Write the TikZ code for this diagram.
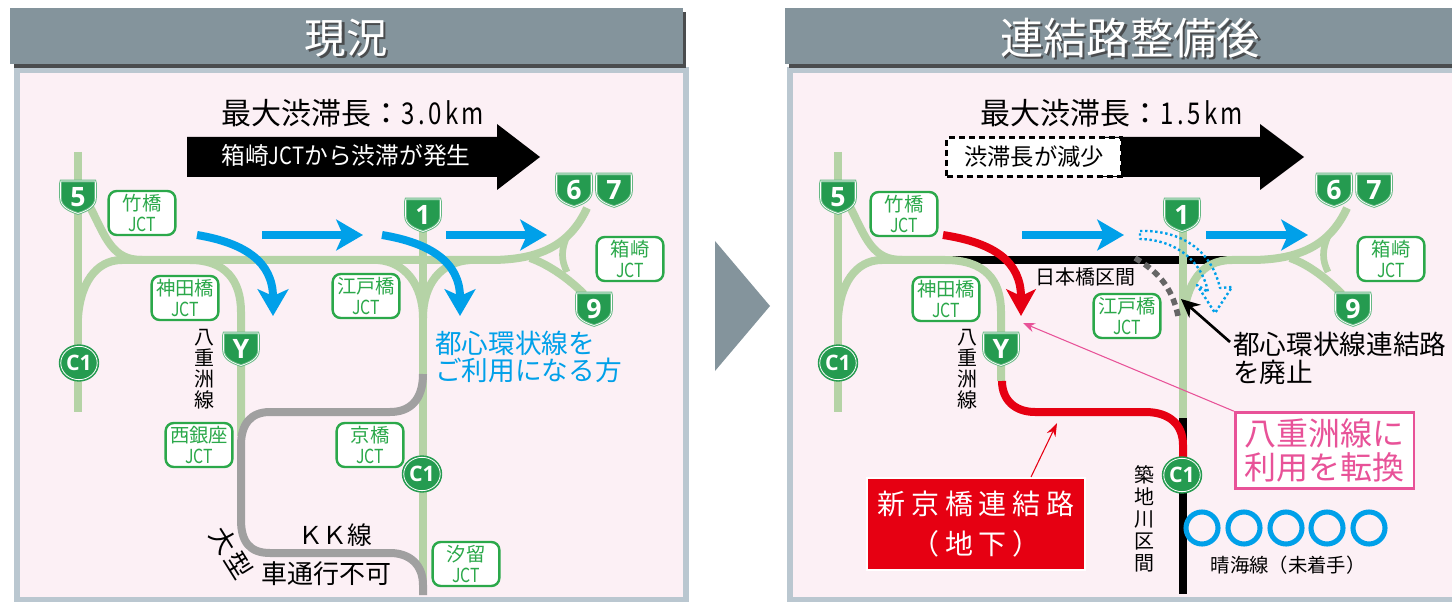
\documentclass[tikz,border=0pt]{standalone}
\usepackage{fontspec}
\setmainfont{Noto Sans CJK JP}
\newfontfamily\shieldfont{Open Sans}
\usetikzlibrary{arrows.meta, shapes.geometric}
\definecolor{headgray}{HTML}{84949C}
\definecolor{headshade}{HTML}{4A4C4E}
\definecolor{panelpink}{HTML}{FCF0F5}
\definecolor{panelrim}{HTML}{BAC7D0}
\definecolor{roadgreen}{HTML}{B5D3A6}
\definecolor{labelgreen}{HTML}{2BA84A}
\definecolor{shieldgreen}{HTML}{259B50}
\definecolor{flowblue}{HTML}{00A0E9}
\definecolor{linkred}{HTML}{E60012}
\definecolor{notepink}{HTML}{E85298}
\definecolor{closedgray}{HTML}{A0A0A0}
\newcommand{\jct}{\scalebox{0.82}[1]{JCT}}
\newcommand{\kmtext}[1]{\scalebox{0.8}[1]{\addfontfeature{LetterSpace=14}#1}}
\newcommand{\wcolon}{\symbol{"FF1A}}
\newcommand{\wopen}{\symbol{"FF08}}
\newcommand{\wclose}{\symbol{"FF09}}
\newcommand{\wkay}{\symbol{"FF2B}}
% road shield: name, position, text
\newcommand{\shieldmark}[3]{
	\path[shift={(#2)}, fill=shieldgreen, draw=shieldgreen!70!white, double=white, double distance=0.5pt, line width=0.7pt]
		(-17,-16) -- (17,-16) -- (17.5,-14) -- (17.5,1) .. controls (17.5,10) and (8,14) .. (0,16.5)
		.. controls (-8,14) and (-17.5,10) .. (-17.5,1) -- (-17.5,-14) -- cycle;
	\node[shieldtext] (#1) at (#2) {#3};
}
\begin{document}
\begin{tikzpicture}[x=0.75pt, y=-0.75pt]
	\tikzset{
		road/.style={draw=roadgreen, line width=6pt},
		closedroad/.style={draw=closedgray, line width=6pt},
		blackroad/.style={draw=black, line width=6pt},
		newroad/.style={draw=linkred, line width=6pt},
		flowarrow/.style={draw=flowblue, line width=6pt, -{Stealth[length=20pt, width=23pt, inset=5pt]}},
		jctbox/.style={draw=labelgreen, line width=1.8pt, fill=white, rounded corners=6pt, text=labelgreen,
			minimum width=50pt, minimum height=33pt, inner sep=0pt, align=center,
			font=\fontsize{14.5}{15.5}\selectfont},
		shieldtext/.style={text=white, font=\shieldfont\bfseries\fontsize{20}{20}\selectfont, inner sep=0pt},
		cone/.style={ellipse, fill=shieldgreen, draw=shieldgreen, double=white, double distance=0.6pt, line width=1.2pt,
			minimum width=27pt, minimum height=25pt, inner sep=0pt,
			text=white, font=\shieldfont\bfseries\fontsize{16}{16}\selectfont},
		titletext/.style={text=white, font=\fontsize{31}{31}\selectfont},
		titleshade/.style={text=headshade, font=\fontsize{31}{31}\selectfont},
		bigtext/.style={font=\fontsize{22.5}{24}\selectfont},
		roadname/.style={align=center, font=\fontsize{15}{15.75}\selectfont, inner sep=0pt},
		ring/.style={circle, draw=flowblue, line width=3.8pt, minimum size=24pt, inner sep=0pt},
	}
	\useasboundingbox (0,0) rectangle (1452,602);

	% panels
	\fill[white] (0,0) rectangle (1452,602);
	\fill[panelpink, draw=panelrim, line width=5pt] (17,70) rectangle (686,600);
	\fill[headshade] (14,12) rectangle (686,68);
	\fill[headgray] (10,8) rectangle (683,64);
	\fill[panelpink] (792,70) rectangle (1452,600);
	\draw[panelrim, line width=5pt] (1452,70) -- (790,70) -- (790,600) -- (1452,600);
	\fill[headshade] (789,12) rectangle (1452,68);
	\fill[headgray] (785,8) rectangle (1452,64);
	\fill[headgray] (715,241) -- (770,306) -- (715,371) -- cycle;

	\node[titleshade] (nowshade) at (348.5,40.5) {現況};
	\node[titletext] (nowtitle) at (346,38) {現況};
	\node[titleshade, font=\fontsize{32.5}{32.5}\selectfont] (aftershade) at (1132.5,40.5) {連結路整備後};
	\node[titletext, font=\fontsize{32.5}{32.5}\selectfont] (aftertitle) at (1130,38) {連結路整備後};

	% left panel
	\node[bigtext] (nowmax) at (353,113) {最大渋滞長\wcolon\kmtext{3.0km}};
	\fill[black] (187,137) -- (497,137) -- (497,124) -- (540,157) -- (497,190) -- (497,177) -- (187,177) -- cycle;
	\node[text=white, font=\fontsize{17.8}{18}\selectfont] (nowjam) at (346,156) {箱崎\scalebox{0.85}[1]{JCT}から渋滞が発生};

	\draw[road] (78,152) -- (78,412);
	\draw[road] (90,207) .. controls (106,238) and (112,260) .. (142,260);
	\draw[road] (78,318) .. controls (80,285) and (95,260) .. (122,260);
	\draw[road] (120,260) -- (490,260) .. controls (540,260) and (570,245) .. (587,208);
	\draw[road] (190,260) .. controls (225,260) and (241,280) .. (241,312) -- (241,436);
	\draw[road] (423,225) -- (423,595);
	\draw[road] (378,260) .. controls (405,262) and (423,285) .. (423,318);
	\draw[road] (470,260) .. controls (440,262) and (423,285) .. (423,318);
	\draw[road] (530,258) .. controls (550,265) and (570,280) .. (584,294);
	\draw[road, line width=5pt] (567,236) .. controls (561,250) and (561,260) .. (567,272);

	\draw[closedroad] (423,374) .. controls (423,400) and (410,412) .. (390,412) -- (270,412)
		.. controls (250,412) and (241,425) .. (241,445) -- (241,520)
		.. controls (241,542) and (250,553) .. (270,553) -- (390,553)
		.. controls (410,553) and (423,565) .. (423,585) -- (423,595);

	\coordinate (nowbendA) at (197,235);
	\coordinate (nowtipA) at (273,316);
	\coordinate (nowbendB) at (382,235);
	\coordinate (nowtipB) at (460,316);
	\coordinate (nowflowA) at (262,235);
	\coordinate (nowendA) at (363,235);
	\coordinate (nowflowB) at (446,235);
	\coordinate (nowendB) at (547,235);
	\draw[flowarrow] (nowbendA) .. controls (245,243) and (273,262) .. (nowtipA);
	\draw[flowarrow] (nowbendB) .. controls (430,243) and (460,262) .. (nowtipB);
	\draw[flowarrow] (nowflowA) -- (nowendA);
	\draw[flowarrow] (nowflowB) -- (nowendB);

	\shieldmark{nowfive}{78,197}{5}
	\shieldmark{nowsix}{574,190}{6}
	\shieldmark{nowseven}{614,190}{7}
	\shieldmark{nowone}{423,215}{1}
	\shieldmark{nownine}{594,309}{9}
	\shieldmark{nowy}{241,349}{Y}
	\node[cone] (nowcone) at (79,363) {C1};
	\node[cone] (nowctwo) at (422,474) {C1};

	\node[jctbox] (nowtake) at (142,213) {竹橋\\\jct};
	\node[jctbox] (nowkanda) at (185,298) {神田橋\\\jct};
	\node[jctbox] (nowedo) at (366,296) {江戸橋\\\jct};
	\node[jctbox] (nowhako) at (630,259) {箱崎\\\jct};
	\node[jctbox] (nowgin) at (199,445) {西銀座\\\jct};
	\node[jctbox] (nowkyo) at (370,445) {京橋\\\jct};
	\node[jctbox] (nowshio) at (466,564) {汐留\\\jct};

	\node[roadname] (nowyaesu) at (204,369) {八\\重\\洲\\線};
	\node[text=flowblue, align=left, anchor=north west, inner sep=0pt, font=\fontsize{20}{20}\selectfont] (nowuse) at (435,331) {都心環状線を\\ご利用になる方};
	\node[font=\fontsize{18.5}{18.5}\selectfont, inner sep=0pt] (nowkk) at (335,535) {\wkay\wkay 線};
	\node[font=\fontsize{19.5}{19.5}\selectfont\addfontfeature{LetterSpace=12}, inner sep=0pt] (nowbig) at (231,553) [rotate=-58] {大型};
	\node[font=\fontsize{19.5}{19.5}\selectfont, inner sep=0pt] (nowbigrest) at (326,574) {車通行不可};

	% right panel
	\node[bigtext] (aftermax) at (1112,113) {最大渋滞長\wcolon\kmtext{1.5km}};
	\fill[black] (1100,137) -- (1260,137) -- (1260,124) -- (1304,157) -- (1260,190) -- (1260,177) -- (1100,177) -- cycle;
	\node[draw=black, dash pattern=on 4.5pt off 3pt, line width=2pt, fill=white, minimum width=131pt, minimum height=29pt, inner sep=0pt,
		font=\fontsize{17.5}{18}\selectfont] (afterjam) at (1034,157) {渋滞長が減少};

	\draw[road] (838,152) -- (838,412);
	\draw[road] (850,207) .. controls (866,238) and (872,260) .. (902,260);
	\draw[road] (838,318) .. controls (840,285) and (855,260) .. (882,260);
	\draw[blackroad] (940,260) -- (1240,260);
	\draw[road] (880,260) -- (945,260) .. controls (985,260) and (1001,280) .. (1001,312) -- (1001,381);
	\draw[road] (1183,225) -- (1183,420);
	\draw[road] (1183,318) .. controls (1187,285) and (1200,260) .. (1232,260) -- (1250,260) .. controls (1300,260) and (1330,245) .. (1347,208);
	\draw[road] (1290,258) .. controls (1310,265) and (1328,280) .. (1342,294);
	\draw[road, line width=5pt] (1328,236) .. controls (1322,250) and (1322,260) .. (1328,272);
	\draw[blackroad] (1183,418) -- (1183,594);
	\draw[newroad] (1002,381) .. controls (1002,400) and (1015,412) .. (1035,412) -- (1145,412)
		.. controls (1170,412) and (1183,425) .. (1183,445) -- (1183,460);
	\draw[draw=black!60, line width=4.2pt, dash pattern=on 5pt off 3.5pt] (1135,258) .. controls (1155,270) and (1172,285) .. (1178,316);

	\coordinate (afterflowA) at (1022,235);
	\coordinate (afterendA) at (1124,235);
	\coordinate (afterflowB) at (1206,235);
	\coordinate (afterendB) at (1308,235);
	\coordinate (redstart) at (943,235);
	\coordinate (redtip) at (1021,316);
	\draw[flowarrow] (afterflowA) -- (afterendA);
	\draw[flowarrow] (afterflowB) -- (afterendB);
	\draw[draw=linkred, line width=6pt, -{Stealth[length=20pt, width=22pt, inset=5pt]}] (redstart) .. controls (995,243) and (1021,262) .. (redtip);
	\draw[flowblue, dash pattern=on 1.8pt off 2pt, line width=1.8pt, line join=round] (1140,231) .. controls (1175,230) and (1210,245) .. (1220,288)
		-- (1232,287) -- (1215,313) -- (1197,285) -- (1208,292) .. controls (1203,265) and (1180,240) .. (1140,239) -- cycle;

	\shieldmark{afterfive}{838,197}{5}
	\shieldmark{aftersix}{1334,190}{6}
	\shieldmark{afterseven}{1374,190}{7}
	\shieldmark{afterone}{1182,215}{1}
	\shieldmark{afternine}{1353,309}{9}
	\shieldmark{aftery}{1001,349}{Y}
	\node[cone] (aftercone) at (838,363) {C1};
	\node[cone] (afterctwo) at (1182,475) {C1};

	\node[jctbox] (aftertake) at (904,214) {竹橋\\\jct};
	\node[jctbox] (afterkanda) at (946,299) {神田橋\\\jct};
	\node[jctbox] (afteredo) at (1127,316) {江戸橋\\\jct};
	\node[jctbox] (afterhako) at (1391,259) {箱崎\\\jct};

	\node[roadname] (afteryaesu) at (967,369) {八\\重\\洲\\線};
	\node[font=\fontsize{15}{15}\selectfont, inner sep=0pt] (afternihon) at (1085,277) {日本橋区間};
	\node[roadname, font=\fontsize{15}{16.5}\selectfont] (aftertsuki) at (1144,519) {築\\地\\川\\区\\間};
	\node[align=left, anchor=north west, inner sep=0pt, font=\fontsize{20}{21}\selectfont] (afterclose) at (1233,332) {都心環状線連結路\\を廃止};
	\coordinate (closedtip) at (1181,299);
	\coordinate (closedtail) at (1230,342);
	\draw[line width=2pt, -{Stealth[length=14pt, width=13pt]}] (closedtail) -- (closedtip);

	\node[draw=notepink, line width=2pt, fill=white, text=notepink, align=center, minimum width=134pt, minimum height=57pt, inner sep=0pt,
		font=\fontsize{24}{25}\selectfont] (afterswitch) at (1324.5,450.5) {八重洲線に\\利用を転換};
	\coordinate (switchtip) at (1023,323);
	\draw[notepink, line width=0.8pt, -{Stealth[length=9pt, width=7pt]}] (afterswitch.north west) -- (switchtip);

	\node[draw=white, line width=1.5pt, fill=linkred, text=white, align=center, minimum width=163pt, minimum height=69pt, inner sep=0pt,
		font=\fontsize{21}{30.5}\selectfont\addfontfeature{LetterSpace=21}] (afterlink) at (976,524) {新京橋連結路\\\wopen 地下\wclose};
	\coordinate (linktip) at (1057,423);
	\coordinate (linktail) at (1031,477);
	\draw[linkred, line width=0.8pt, -{Stealth[length=10pt, width=7pt]}] (linktail) -- (linktip);

	\node[ring] (ringa) at (1202,528) {};
	\node[ring] (ringb) at (1244,528) {};
	\node[ring] (ringc) at (1286,528) {};
	\node[ring] (ringd) at (1327,528) {};
	\node[ring] (ringe) at (1369,528) {};
	\node[font=\fontsize{14.5}{15}\selectfont, inner sep=0pt] (afterharumi) at (1288,565) {晴海線\wopen 未着手\wclose};
\end{tikzpicture}
\end{document}
